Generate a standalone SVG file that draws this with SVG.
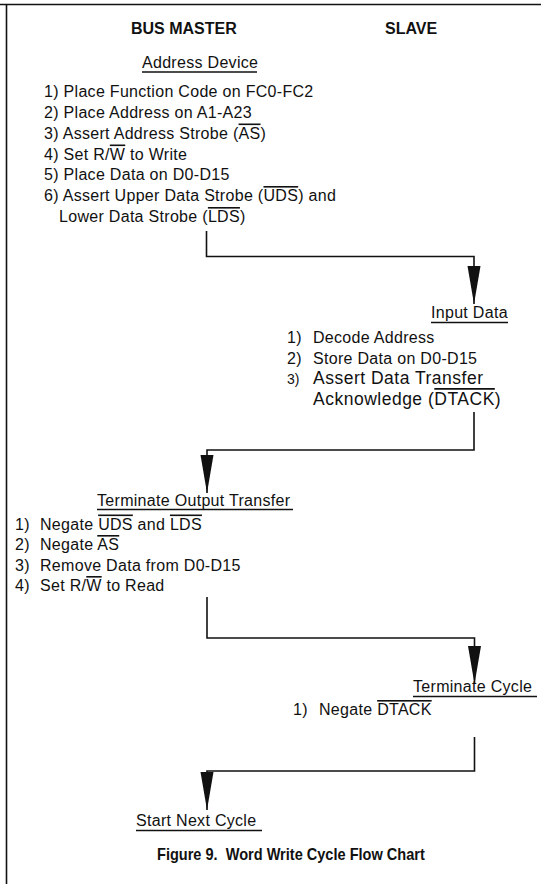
<svg xmlns="http://www.w3.org/2000/svg" width="541" height="884" viewBox="0 0 541 884">
<style>
.t { font-family: "Liberation Sans", Arial, sans-serif; font-size: 16px; letter-spacing: 0.3px; fill: #111; }
.t3 { font-family: "Liberation Sans", Arial, sans-serif; font-size: 17.5px; letter-spacing: 0.5px; fill: #111; }
.n3 { font-family: "Liberation Sans", Arial, sans-serif; font-size: 14px; fill: #111; }
.b { font-family: "Liberation Sans", Arial, sans-serif; font-weight: bold; font-size: 16px; fill: #111; }
.ov { text-decoration: overline; }
.ul { stroke: #111; stroke-width: 1.5; }
.frame { stroke: #111; stroke-width: 1.6; fill: none; }
.conn path { fill: none; stroke: #111; stroke-width: 1.6; }
</style>
<defs>
<marker id="arr" viewBox="0 -7 38 14" refX="38" refY="0" markerWidth="38" markerHeight="14" markerUnits="userSpaceOnUse" orient="auto">
<path d="M0,-6.5 L38,0 L0,6.5 Z" fill="#111"/>
</marker>
</defs>
<rect x="0" y="0" width="541" height="884" fill="#fff"/>
<g id="frame">
<line class="frame" x1="0" y1="4.5" x2="541" y2="4.5"/>
<line class="frame" x1="6.5" y1="4" x2="6.5" y2="884"/>
</g>
<g id="headers">
<text class="b" x="131" y="34">BUS MASTER</text>
<text class="b" x="385" y="34">SLAVE</text>
</g>
<g id="node-address-device">
<text class="t" x="142" y="68">Address Device</text>
<line class="ul" x1="142" y1="72" x2="257" y2="72"/>
<text class="t" x="44" y="96.5">1) Place Function Code on FC0-FC2</text>
<text class="t" x="44" y="117.5">2) Place Address on A1-A23</text>
<text class="t" x="44" y="138.5">3) Assert Address Strobe (<tspan class="ov">AS</tspan>)</text>
<text class="t" x="44" y="159.5">4) Set R/<tspan class="ov">W</tspan> to Write</text>
<text class="t" x="44" y="180">5) Place Data on D0-D15</text>
<text class="t" x="44" y="201">6) Assert Upper Data Strobe (<tspan class="ov">UDS</tspan>) and</text>
<text class="t" x="59" y="222">Lower Data Strobe (<tspan class="ov">LDS</tspan>)</text>
</g>
<g id="node-input-data">
<text class="t" x="431" y="318">Input Data</text>
<line class="ul" x1="431" y1="322.5" x2="508" y2="322.5"/>
<text class="t" x="287" y="343">1)<tspan x="313">Decode Address</tspan></text>
<text class="t" x="287" y="363.5">2)<tspan x="313">Store Data on D0-D15</tspan></text>
<text class="n3" x="287" y="384">3)</text>
<text class="t3" x="313" y="384">Assert Data Transfer</text>
<text class="t3" x="313" y="405">Acknowledge (<tspan class="ov">DTACK</tspan>)</text>
</g>
<g id="node-terminate-output-transfer">
<text class="t" x="97" y="505.5">Terminate Output Transfer</text>
<line class="ul" x1="97" y1="509.5" x2="293" y2="509.5"/>
<text class="t" x="15" y="529.5">1)<tspan x="40">Negate </tspan><tspan class="ov">UDS</tspan> and <tspan class="ov">LDS</tspan></text>
<text class="t" x="15" y="550">2)<tspan x="40">Negate </tspan><tspan class="ov">AS</tspan></text>
<text class="t" x="15" y="570.5">3)<tspan x="40">Remove Data from D0-D15</tspan></text>
<text class="t" x="15" y="591">4)<tspan x="40">Set R/</tspan><tspan class="ov">W</tspan> to Read</text>
</g>
<g id="node-terminate-cycle">
<text class="t" x="413" y="692">Terminate Cycle</text>
<line class="ul" x1="413" y1="696.5" x2="537" y2="696.5"/>
<text class="t" x="293" y="715">1)<tspan x="319">Negate </tspan><tspan class="ov">DTACK</tspan></text>
</g>
<g id="node-start-next-cycle">
<text class="t" x="136" y="826">Start Next Cycle</text>
<line class="ul" x1="136" y1="830.5" x2="262" y2="830.5"/>
</g>
<g id="caption">
<text class="b" transform="translate(157,860) scale(0.91,1)" x="0" y="0" font-size="15">Figure 9.&#160; Word Write Cycle Flow Chart</text>
</g>
<g id="connectors" class="conn">
<path d="M206.5,231 V256.5 H474 V304" marker-end="url(#arr)"/>
<path d="M474,412 V450 H207 V493" marker-end="url(#arr)"/>
<path d="M207,597 V638 H474.5 V684" marker-end="url(#arr)"/>
<path d="M474.5,737 V771 H207 V810" marker-end="url(#arr)"/>
</g>
</svg>
